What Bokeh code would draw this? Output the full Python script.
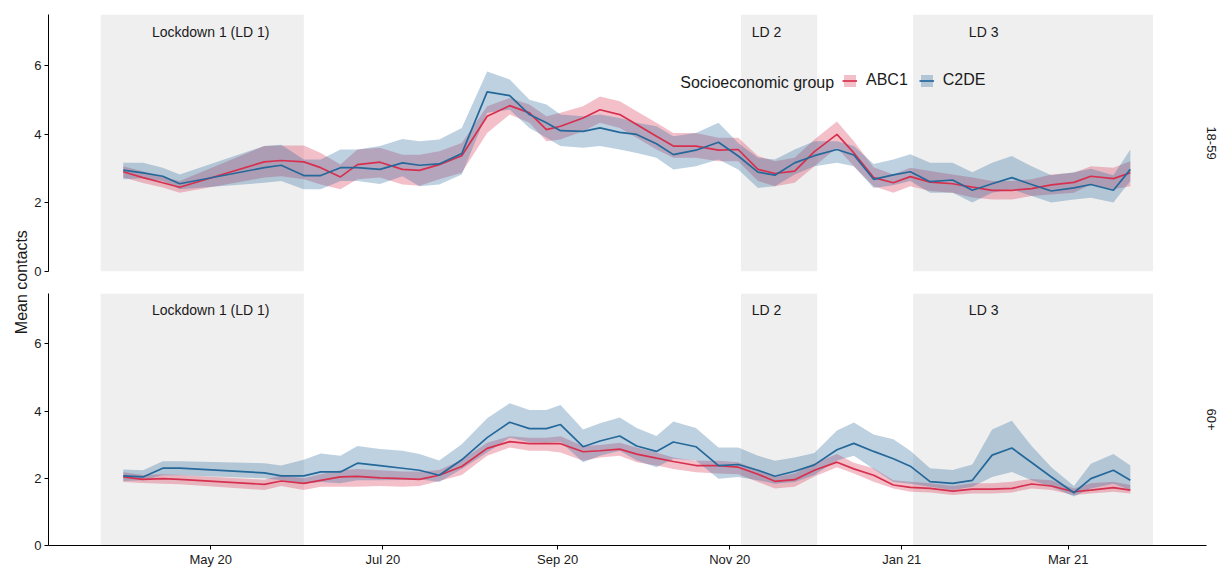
import math
import pandas as pd
from bokeh.plotting import figure
from bokeh.models import (ColumnDataSource, Range1d, FixedTicker, Legend,
                          LegendItem, Label, Title)
from bokeh.layouts import row, column
from bokeh.embed import file_html
from bokeh.resources import INLINE
from bokeh.core.properties import value

# ---------------- data ----------------
dates = ["2020-03-31", "2020-04-07", "2020-04-14", "2020-04-20", "2020-05-20",
         "2020-05-26", "2020-06-03", "2020-06-09", "2020-06-16", "2020-06-22",
         "2020-06-30", "2020-07-08", "2020-07-14", "2020-07-21", "2020-07-29",
         "2020-08-07", "2020-08-15", "2020-08-22", "2020-08-28", "2020-09-02",
         "2020-09-10", "2020-09-16", "2020-09-23", "2020-09-29", "2020-10-06",
         "2020-10-12", "2020-10-20", "2020-10-28", "2020-11-04", "2020-11-11",
         "2020-11-17", "2020-11-24", "2020-12-01", "2020-12-09", "2020-12-15",
         "2020-12-22", "2020-12-29", "2021-01-04", "2021-01-11", "2021-01-19",
         "2021-01-26", "2021-02-02", "2021-02-09", "2021-02-16", "2021-02-23",
         "2021-03-03", "2021-03-09", "2021-03-17", "2021-03-23"]

age_groups = ["18-59", "60+"]
ses_groups = ["ABC1", "C2DE"]

# 18-59
abc1_young = [2.91, 2.74, 2.59, 2.46, 3.20, 3.24, 3.20, 3.03, 2.76, 3.12,
              3.19, 2.98, 2.95, 3.12, 3.38, 4.53, 4.84, 4.63, 4.14, 4.24,
              4.48, 4.72, 4.58, 4.29, 3.95, 3.66, 3.66, 3.54, 3.56, 2.98,
              2.86, 2.93, 3.50, 4.00, 3.46, 2.74, 2.59, 2.77, 2.61, 2.56,
              2.46, 2.37, 2.37, 2.42, 2.53, 2.60, 2.78, 2.71, 2.88]
abc1_young_lo = [2.74, 2.58, 2.45, 2.30, 2.74, 2.78, 2.69, 2.54, 2.40, 2.69,
                 2.74, 2.54, 2.50, 2.69, 2.88, 4.04, 4.58, 4.34, 3.80, 3.85,
                 4.09, 4.34, 4.19, 3.90, 3.56, 3.32, 3.32, 3.22, 3.22, 2.64,
                 2.49, 2.59, 3.07, 3.61, 3.07, 2.49, 2.30, 2.49, 2.35, 2.30,
                 2.16, 2.10, 2.10, 2.20, 2.25, 2.30, 2.54, 2.40, 2.49]
abc1_young_hi = [3.07, 2.92, 2.76, 2.64, 3.66, 3.68, 3.68, 3.46, 3.12, 3.56,
                 3.61, 3.41, 3.41, 3.51, 3.75, 4.82, 5.06, 4.87, 4.53, 4.63,
                 4.82, 5.11, 4.97, 4.68, 4.34, 4.04, 4.04, 3.90, 3.90, 3.37,
                 3.22, 3.32, 3.85, 4.38, 3.80, 3.04, 2.83, 3.03, 2.93, 2.83,
                 2.74, 2.64, 2.64, 2.69, 2.83, 2.88, 3.07, 3.03, 3.22]

c2de_young = [2.96, 2.88, 2.78, 2.56, 3.03, 3.10, 2.80, 2.80, 3.03, 3.03,
              2.98, 3.17, 3.10, 3.14, 3.44, 5.24, 5.13, 4.58, 4.34, 4.11,
              4.09, 4.19, 4.06, 4.00, 3.73, 3.41, 3.54, 3.77, 3.37, 2.90,
              2.81, 3.17, 3.38, 3.56, 3.40, 2.69, 2.82, 2.91, 2.62, 2.67,
              2.37, 2.56, 2.74, 2.54, 2.35, 2.44, 2.54, 2.37, 2.98]
c2de_young_lo = [2.69, 2.72, 2.64, 2.40, 2.59, 2.64, 2.40, 2.40, 2.64, 2.64,
                 2.55, 2.78, 2.49, 2.54, 2.83, 4.63, 4.72, 4.19, 3.90, 3.66,
                 3.61, 3.66, 3.56, 3.46, 3.32, 2.98, 3.07, 3.27, 2.98, 2.44,
                 2.49, 2.83, 3.07, 3.17, 3.07, 2.44, 2.52, 2.64, 2.30, 2.30,
                 2.01, 2.30, 2.40, 2.20, 2.01, 2.10, 2.15, 2.01, 2.64]
c2de_young_hi = [3.17, 3.17, 3.03, 2.83, 3.66, 3.70, 3.27, 3.27, 3.56, 3.56,
                 3.66, 3.87, 3.80, 3.85, 4.19, 5.84, 5.60, 5.01, 4.87, 4.58,
                 4.53, 4.58, 4.48, 4.34, 4.24, 3.95, 4.04, 4.34, 3.75, 3.32,
                 3.27, 3.56, 3.80, 3.80, 3.66, 3.14, 3.27, 3.42, 3.17, 3.17,
                 2.90, 3.17, 3.37, 3.07, 2.81, 2.90, 3.00, 2.81, 3.56]

# 60+
abc1_old = [2.04, 1.97, 1.99, 1.97, 1.82, 1.92, 1.85, 1.94, 2.04, 2.06,
            2.01, 1.99, 1.97, 2.09, 2.35, 2.89, 3.09, 3.03, 3.03, 3.03,
            2.79, 2.82, 2.87, 2.72, 2.60, 2.50, 2.38, 2.38, 2.33, 2.12,
            1.91, 1.96, 2.24, 2.48, 2.28, 2.09, 1.80, 1.73, 1.70, 1.62,
            1.68, 1.68, 1.70, 1.83, 1.77, 1.60, 1.65, 1.72, 1.65]
abc1_old_lo = [1.89, 1.86, 1.84, 1.82, 1.65, 1.77, 1.65, 1.75, 1.75, 1.75,
               1.77, 1.75, 1.77, 1.92, 2.10, 2.67, 2.92, 2.82, 2.82, 2.77,
               2.52, 2.62, 2.67, 2.48, 2.38, 2.28, 2.18, 2.14, 2.12, 1.89,
               1.70, 1.75, 2.05, 2.33, 2.14, 1.90, 1.70, 1.60, 1.58, 1.50,
               1.55, 1.55, 1.58, 1.70, 1.65, 1.50, 1.55, 1.60, 1.55]
abc1_old_hi = [2.18, 2.10, 2.12, 2.10, 1.96, 2.08, 2.00, 2.12, 2.24, 2.28,
               2.24, 2.20, 2.20, 2.25, 2.55, 3.06, 3.25, 3.21, 3.21, 3.25,
               2.96, 2.99, 3.06, 2.92, 2.77, 2.62, 2.52, 2.52, 2.48, 2.24,
               2.04, 2.14, 2.45, 2.72, 2.46, 2.30, 1.94, 1.90, 1.85, 1.77,
               1.85, 1.85, 1.90, 1.98, 1.94, 1.70, 1.85, 1.90, 1.80]

c2de_old = [2.07, 2.04, 2.30, 2.30, 2.16, 2.07, 2.07, 2.19, 2.19, 2.45,
            2.38, 2.30, 2.24, 2.09, 2.55, 3.21, 3.67, 3.48, 3.48, 3.60,
            2.94, 3.11, 3.26, 2.96, 2.80, 3.08, 2.94, 2.38, 2.41, 2.24,
            2.06, 2.21, 2.40, 2.85, 3.04, 2.80, 2.58, 2.36, 1.90, 1.85,
            1.94, 2.69, 2.90, 2.47, 2.04, 1.57, 1.99, 2.24, 1.94]
c2de_old_lo = [1.92, 1.94, 2.09, 2.09, 2.00, 1.94, 1.84, 1.89, 1.85, 1.94,
               1.94, 1.95, 1.97, 1.89, 2.28, 2.77, 3.21, 3.07, 3.06, 3.09,
               2.48, 2.67, 2.82, 2.53, 2.33, 2.58, 2.53, 1.99, 2.04, 1.94,
               1.84, 1.89, 2.10, 2.53, 2.67, 2.28, 1.89, 1.84, 1.75, 1.65,
               1.75, 2.04, 2.19, 1.94, 1.75, 1.46, 1.70, 1.84, 1.65]
c2de_old_hi = [2.26, 2.24, 2.51, 2.51, 2.45, 2.38, 2.55, 2.74, 2.67, 2.96,
               2.87, 2.82, 2.72, 2.53, 3.01, 3.79, 4.23, 4.03, 4.03, 4.18,
               3.45, 3.64, 3.81, 3.50, 3.26, 3.69, 3.50, 2.92, 2.92, 2.67,
               2.52, 2.62, 2.75, 3.42, 3.66, 3.30, 3.16, 2.82, 2.30, 2.25,
               2.41, 3.45, 3.71, 2.96, 2.33, 1.77, 2.43, 2.72, 2.38]

# lockdown periods and their labels
ld_start = ["2020-03-23", "2020-11-05", "2021-01-05"]
ld_end = ["2020-06-03", "2020-12-02", "2021-03-31"]
ld_label = ["Lockdown 1 (LD 1)", "LD 2", "LD 3"]
ld_label_x = ["2020-05-01", "2020-11-14", "2021-01-30"]
ld_label_y = [7.0, 7.0, 7.0]

# axes
x_start, x_end = "2020-03-04 12:00", "2021-04-19"
y_max = 7.5
y_ticks = [0, 2, 4, 6]
x_tick_dates = ["2020-05-01", "2020-07-01", "2020-09-01", "2020-11-01",
                "2021-01-01", "2021-03-01"]
x_tick_labels = ["May 20", "Jul 20", "Sep 20", "Nov 20", "Jan 21", "Mar 21"]

legend_title = "Socioeconomic group"
legend_title_x = "2020-12-08"
legend_title_y = 5.52

# ---------------- styling ----------------
FONT = "Liberation Sans"
RED = "#D7304F"
BLUE = "#25689A"
SHADE = "#EFEFEF"
TXT = "#1A1A1A"


def ms(d):
    return pd.Timestamp(d).value / 1e6


x_range = Range1d(start=ms(x_start), end=ms(x_end))
tick_ms = [int(ms(d)) for d in x_tick_dates]

series = {
    "18-59": [(abc1_young, abc1_young_lo, abc1_young_hi),
              (c2de_young, c2de_young_lo, c2de_young_hi)],
    "60+": [(abc1_old, abc1_old_lo, abc1_old_hi),
            (c2de_old, c2de_old_lo, c2de_old_hi)],
}

W_LAB = 30
W_MAIN = 1187


def make_panel(age, bottom):
    p = figure(width=W_MAIN, height=287 if bottom else 282,
               x_range=x_range, y_range=Range1d(0, y_max),
               x_axis_type="datetime",
               x_axis_location="below" if bottom else None,
               output_backend="svg", toolbar_location=None,
               min_border_left=18, min_border_right=0,
               min_border_top=11 if bottom else 14,
               min_border_bottom=20 if bottom else 11,
               outline_line_color=None,
               background_fill_color="white", border_fill_color="white")
    p.grid.grid_line_color = None

    ld = ColumnDataSource(dict(left=pd.to_datetime(ld_start),
                               right=pd.to_datetime(ld_end)))
    p.quad(left="left", right="right", bottom=0, top=y_max, source=ld,
           fill_color=SHADE, line_color=None)

    tx = ColumnDataSource(dict(x=pd.to_datetime(ld_label_x), y=ld_label_y,
                               t=ld_label))
    p.text(x="x", y="y", text="t", source=tx, text_align="center",
           text_baseline="middle", text_font=value(FONT),
           text_font_size="14px", text_color=TXT)

    rends = []
    for (mean, lo, hi), col in zip(series[age], [RED, BLUE]):
        src = ColumnDataSource(dict(x=pd.to_datetime(dates), m=mean,
                                    lo=lo, hi=hi))
        band = p.varea(x="x", y1="lo", y2="hi", source=src,
                       fill_color=col, fill_alpha=0.3)
        rends.append([band, src])
    lines = []
    for (band, src), col in zip(rends, [RED, BLUE]):
        ln = p.line(x="x", y="m", source=src, line_color=col, line_width=1.7)
        lines.append(ln)

    yax = p.yaxis[0]
    yax.ticker = FixedTicker(ticks=y_ticks)
    yax.axis_line_color = "black"
    yax.major_tick_line_color = "black"
    yax.major_tick_out = 4
    yax.major_tick_in = 0
    yax.minor_tick_line_color = None
    yax.major_label_text_font = FONT
    yax.major_label_text_font_size = "13px"
    yax.major_label_text_color = TXT
    yax.major_label_standoff = 3

    if bottom:
        xax = p.xaxis[0]
        xax.ticker = FixedTicker(ticks=tick_ms)
        xax.major_label_overrides = {t: l for t, l in zip(tick_ms, x_tick_labels)}
        xax.axis_line_color = "black"
        xax.major_tick_line_color = "black"
        xax.major_tick_out = 4
        xax.major_tick_in = 0
        xax.minor_tick_line_color = None
        xax.major_label_text_font = FONT
        xax.major_label_text_font_size = "13px"
        xax.major_label_text_color = TXT
        xax.major_label_standoff = 2

    p.add_layout(Title(text=age, align="center", text_font=FONT,
                       text_font_size="13px", text_font_style="normal",
                       text_color=TXT, standoff=0), "right")
    return p, [r[0] for r in rends], lines


p1, bands1, lines1 = make_panel(age_groups[0], False)
p2, bands2, lines2 = make_panel(age_groups[1], True)

legend = Legend(items=[LegendItem(label=ses_groups[0], renderers=[bands1[0], lines1[0]]),
                       LegendItem(label=ses_groups[1], renderers=[bands1[1], lines1[1]])],
                location=(794, 182), orientation="horizontal",
                glyph_width=15, glyph_height=15, label_height=15,
                label_standoff=9, spacing=11, padding=0, margin=0,
                border_line_color=None, background_fill_alpha=0,
                label_text_font=FONT, label_text_font_size="16px",
                label_text_color=TXT, label_text_baseline="middle")
p1.add_layout(legend)
p1.add_layout(Label(x=ms(legend_title_x), y=legend_title_y, text=legend_title,
                    text_align="right", text_baseline="middle",
                    text_font=FONT, text_font_size="16px", text_color=TXT))

lab = figure(width=W_LAB, height=569, output_backend="svg", toolbar_location=None,
             min_border=0, outline_line_color=None, x_axis_location=None,
             y_axis_location=None, x_range=Range1d(0, 1), y_range=Range1d(0, 1),
             border_fill_color="white", background_fill_color="white")
lab.grid.grid_line_color = None
lab.add_layout(Label(x=0.7, y=0.505, text="Mean contacts", angle=math.pi / 2,
                     text_align="center", text_baseline="middle",
                     text_font=FONT, text_font_size="16px", text_color=TXT))

layout = row(lab, column(p1, p2, spacing=0), spacing=0)

open("out.html", "w").write(file_html(layout, INLINE))
